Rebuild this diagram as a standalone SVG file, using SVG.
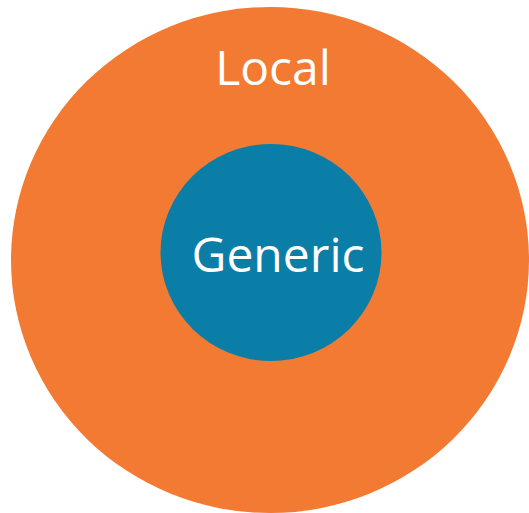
<svg xmlns="http://www.w3.org/2000/svg" width="529" height="513" viewBox="0 0 529 513">
<style>
.lbl{font-family:"Open Sans","Noto Sans","DejaVu Sans",sans-serif;font-size:48px;fill:#ffffff;text-anchor:middle}
</style>
<rect width="529" height="513" fill="#ffffff"/>
<g id="local">
<ellipse cx="270" cy="260" rx="259" ry="253" fill="#F37A32"/>
<text class="lbl" x="273" y="85">Local</text>
</g>
<g id="generic">
<ellipse cx="271" cy="252.5" rx="110.5" ry="108.5" fill="#0B7EA8"/>
<text class="lbl" x="278" y="272">Generic</text>
</g>
<g id="connectors"/>
</svg>
